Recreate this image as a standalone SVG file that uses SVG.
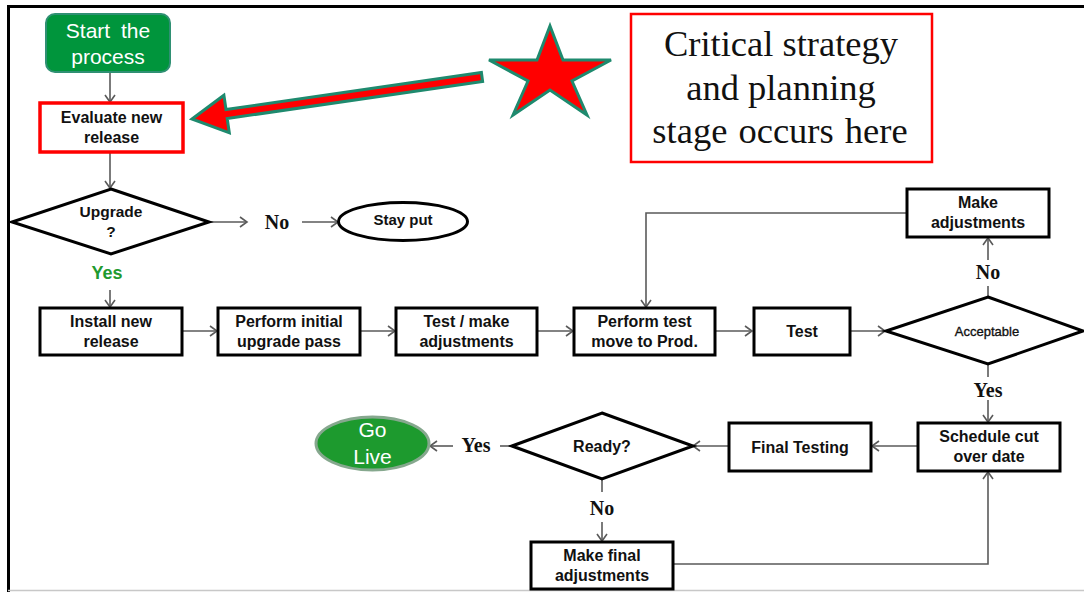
<svg xmlns="http://www.w3.org/2000/svg" width="1084" height="592" viewBox="0 0 1084 592">
<style>
.box{fill:#fff;stroke:#000;stroke-width:3}
.dia{fill:#fff;stroke:#000;stroke-width:3}
.t{font-family:"Liberation Sans",Arial,sans-serif;font-weight:bold;font-size:16px;fill:#111;text-anchor:middle}
.lbl{font-family:"Liberation Serif","Times New Roman",serif;font-weight:bold;font-size:20px;fill:#111;text-anchor:middle}
.w{font-family:"Liberation Sans",Arial,sans-serif;font-size:21px;fill:#fff;text-anchor:middle}
.s{font-family:"Liberation Serif","Times New Roman",serif;font-size:36.5px;fill:#111;text-anchor:middle}
.c{fill:none;stroke:#5a5a5a;stroke-width:1.6}
.ca{fill:none;stroke:#5a5a5a;stroke-width:1.6;marker-end:url(#ah)}
</style>
<defs>
<marker id="ah" markerUnits="userSpaceOnUse" markerWidth="14" markerHeight="14" refX="9" refY="6" orient="auto">
<path d="M2,1 L9,6 L2,11" fill="none" stroke="#5a5a5a" stroke-width="1.6"/>
</marker>
</defs>
<rect x="0" y="0" width="1084" height="592" fill="#fff"/>
<path d="M8.5,592 V6.5 H1084" fill="none" stroke="#000" stroke-width="3"/>
<line x1="8" y1="590.5" x2="1084" y2="590.5" stroke="#c8c8c8" stroke-width="1.5"/>

<g id="connectors">
<line class="ca" x1="110" y1="72" x2="110" y2="102"/>
<line class="ca" x1="110" y1="153" x2="110" y2="188"/>
<line class="ca" x1="210" y1="222" x2="247" y2="222"/>
<line class="ca" x1="302" y1="222" x2="338" y2="222"/>
<line class="ca" x1="110" y1="290" x2="110" y2="307"/>
<line class="ca" x1="182" y1="331" x2="217" y2="331"/>
<line class="ca" x1="360" y1="331" x2="395" y2="331"/>
<line class="ca" x1="537" y1="331" x2="573" y2="331"/>
<line class="ca" x1="716" y1="331" x2="752" y2="331"/>
<line class="ca" x1="850" y1="331" x2="885" y2="331"/>
<line class="c" x1="988" y1="297" x2="988" y2="286"/>
<line class="ca" x1="988" y1="260" x2="988" y2="238"/>
<polyline class="ca" points="907,213 646,213 646,307"/>
<line class="c" x1="988" y1="364" x2="988" y2="377"/>
<line class="ca" x1="988" y1="400" x2="988" y2="422"/>
<line class="ca" x1="918" y1="446" x2="872" y2="446"/>
<line class="ca" x1="729" y1="446" x2="693" y2="446"/>
<line class="c" x1="512" y1="446" x2="500" y2="446"/>
<line class="ca" x1="453" y1="446" x2="430" y2="446"/>
<line class="c" x1="602" y1="480" x2="602" y2="492"/>
<line class="ca" x1="602" y1="522" x2="602" y2="541"/>
<polyline class="ca" points="673,564 988,564 988,472"/>
<text class="lbl" x="277" y="229">No</text>
<text class="lbl" x="988" y="279">No</text>
<text class="lbl" x="988" y="397">Yes</text>
<text class="lbl" x="476" y="452">Yes</text>
<text class="lbl" x="602" y="515">No</text>
<text x="107" y="279" style="font-family:'Liberation Sans',Arial,sans-serif;font-weight:bold;font-size:18px;fill:#1f9a2f;text-anchor:middle">Yes</text>
</g>

<g id="callout-arrow">
<polygon points="192,119 223.9,95.2 226,109.5 481.4,72.5 482.6,81.5 227.2,118.5 229.3,132.8" fill="#ff0000" stroke="#1e8a6e" stroke-width="3" stroke-linejoin="miter"/>
</g>
<g id="star">
<polygon points="550,26 563,60 611,60 572,81 587,115 550,90 513,115 528,81 489,60 537,60" fill="#ff0000" stroke="#1e8a6e" stroke-width="3"/>
</g>
<g id="critical">
<rect x="631" y="14" width="301" height="148" fill="#fff" stroke="#ff0000" stroke-width="2.5"/>
<text class="s" x="781" y="56">Critical strategy</text>
<text class="s" x="781" y="100">and planning</text>
<text class="s" x="780" y="143" style="word-spacing:2px">stage occurs here</text>
</g>

<g id="start">
<rect x="46" y="14" width="124" height="58" rx="9" fill="#00953c" stroke="#2f9073" stroke-width="2"/>
<text class="w" x="108" y="38" style="word-spacing:5px">Start the</text>
<text class="w" x="108" y="64">process</text>
</g>
<g id="evaluate">
<rect x="40" y="103" width="143" height="49" fill="#fff" stroke="#ff0000" stroke-width="3.5"/>
<text class="t" x="111.5" y="123">Evaluate new</text>
<text class="t" x="111.5" y="143">release</text>
</g>
<g id="upgrade">
<polygon class="dia" points="111,189 209,222 111,254 12,222"/>
<text class="t" x="111" y="217" style="font-size:15.5px">Upgrade</text>
<text class="t" x="111" y="237" style="font-size:15.5px">?</text>
</g>
<g id="stayput">
<ellipse cx="403" cy="221.5" rx="64.5" ry="19" fill="#fff" stroke="#000" stroke-width="3"/>
<text class="t" x="403" y="225" style="font-size:15px">Stay put</text>
</g>
<g id="install">
<rect class="box" x="40" y="308" width="142" height="47"/>
<text class="t" x="111" y="327">Install new</text>
<text class="t" x="111" y="347">release</text>
</g>
<g id="initial">
<rect class="box" x="218" y="308" width="142" height="47"/>
<text class="t" x="289" y="327">Perform initial</text>
<text class="t" x="289" y="347">upgrade pass</text>
</g>
<g id="testmake">
<rect class="box" x="396" y="308" width="141" height="47"/>
<text class="t" x="466.5" y="327">Test / make</text>
<text class="t" x="466.5" y="347">adjustments</text>
</g>
<g id="performtest">
<rect class="box" x="574" y="308" width="141" height="47"/>
<text class="t" x="644.5" y="327">Perform test</text>
<text class="t" x="644.5" y="347">move to Prod.</text>
</g>
<g id="test">
<rect class="box" x="754" y="308" width="96" height="47"/>
<text class="t" x="802" y="337">Test</text>
</g>
<g id="acceptable">
<polygon class="dia" points="988,297 1083,331 988,364 886,331"/>
<text x="987" y="336" style="font-family:'Liberation Sans',Arial,sans-serif;font-size:13px;fill:#111;stroke:#111;stroke-width:0.35;text-anchor:middle">Acceptable</text>
</g>
<g id="makeadj">
<rect class="box" x="907" y="189" width="142" height="48"/>
<text class="t" x="978" y="208">Make</text>
<text class="t" x="978" y="228">adjustments</text>
</g>
<g id="schedule">
<rect class="box" x="918" y="423" width="142" height="48"/>
<text class="t" x="989" y="442">Schedule cut</text>
<text class="t" x="989" y="462">over date</text>
</g>
<g id="finaltesting">
<rect class="box" x="729" y="423" width="142" height="48"/>
<text class="t" x="800" y="453">Final Testing</text>
</g>
<g id="ready">
<polygon class="dia" points="602,413 693,446 602,479 512,446"/>
<text class="t" x="602" y="452">Ready?</text>
</g>
<g id="golive">
<ellipse cx="372.5" cy="443.5" rx="56.5" ry="26.5" fill="#1d9a2e" stroke="#86a88e" stroke-width="3"/>
<text class="w" x="372.5" y="437">Go</text>
<text class="w" x="372.5" y="464">Live</text>
</g>
<g id="makefinal">
<rect class="box" x="531" y="542" width="142" height="47"/>
<text class="t" x="602" y="561">Make final</text>
<text class="t" x="602" y="581">adjustments</text>
</g>
</svg>
